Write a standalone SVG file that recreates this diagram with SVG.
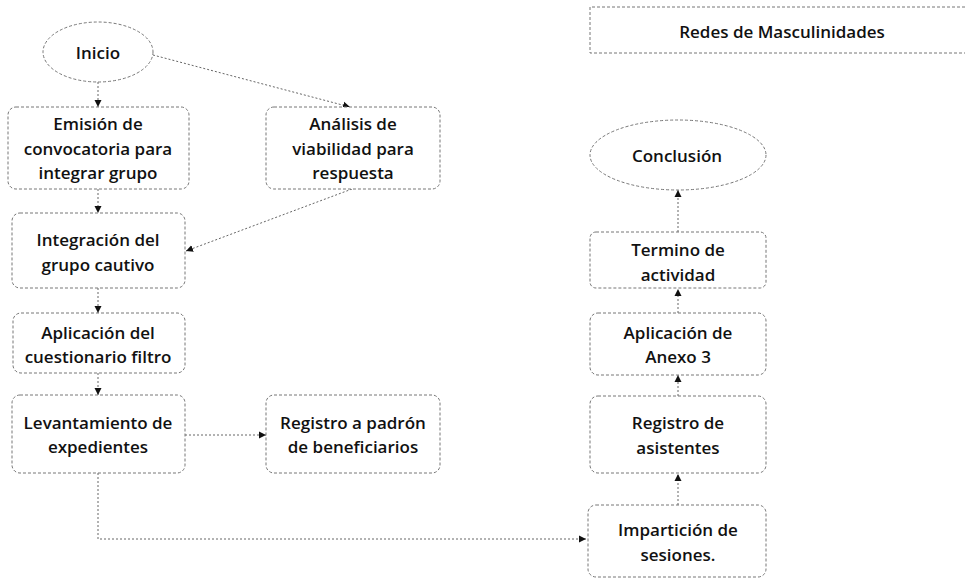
<svg xmlns="http://www.w3.org/2000/svg" width="965" height="579" viewBox="0 0 965 579">
<style>
.box{fill:#fff;stroke:#777;stroke-width:1;stroke-dasharray:3,2}
.conn{fill:none;stroke:#666;stroke-width:1;stroke-dasharray:2,2}
.t{font-family:"Open Sans","Liberation Sans",sans-serif;font-size:17px;font-weight:600;fill:#111;text-anchor:middle}
</style>
<defs>
<marker id="ah" markerWidth="9" markerHeight="9" refX="7" refY="4.5" orient="auto" markerUnits="userSpaceOnUse">
<path d="M0,1 L7,4.5 L0,8 Z" fill="#111"/>
</marker>
</defs>
<rect width="965" height="579" fill="#fff"/>
<g id="connectors">
<path class="conn" d="M98,82 L98,107" marker-end="url(#ah)"/>
<path class="conn" d="M153,55 L350,107" marker-end="url(#ah)"/>
<path class="conn" d="M98,189 L98,213" marker-end="url(#ah)"/>
<path class="conn" d="M352,189 L186,251" marker-end="url(#ah)"/>
<path class="conn" d="M98,288 L98,313" marker-end="url(#ah)"/>
<path class="conn" d="M98,373 L98,395" marker-end="url(#ah)"/>
<path class="conn" d="M185,435 L266,435" marker-end="url(#ah)"/>
<path class="conn" d="M98,473 L98,539 L586,539" marker-end="url(#ah)"/>
<path class="conn" d="M678,505 L678,474" marker-end="url(#ah)"/>
<path class="conn" d="M678,396 L678,375" marker-end="url(#ah)"/>
<path class="conn" d="M678,313 L678,289" marker-end="url(#ah)"/>
<path class="conn" d="M678,232 L678,190" marker-end="url(#ah)"/>
</g>
<g id="redes">
<path class="box" d="M965,7 L590,7 L590,53 L965,53"/>
<text class="t" x="782" y="38">Redes de Masculinidades</text>
</g>
<g id="inicio">
<ellipse class="box" cx="98" cy="52" rx="55" ry="30"/>
<text class="t" x="98" y="59">Inicio</text>
</g>
<g id="emision">
<rect class="box" x="8" y="107" width="181" height="82" rx="8"/>
<text class="t" x="98" y="130">Emisión de</text>
<text class="t" x="98" y="155">convocatoria para</text>
<text class="t" x="98" y="179">integrar grupo</text>
</g>
<g id="analisis">
<rect class="box" x="266" y="107" width="174" height="82" rx="8"/>
<text class="t" x="353" y="130">Análisis de</text>
<text class="t" x="353" y="155">viabilidad para</text>
<text class="t" x="353" y="179">respuesta</text>
</g>
<g id="integracion">
<rect class="box" x="12" y="213" width="173" height="75" rx="8"/>
<text class="t" x="98" y="246">Integración del</text>
<text class="t" x="98" y="271">grupo cautivo</text>
</g>
<g id="cuestionario">
<rect class="box" x="13" y="313" width="172" height="60" rx="8"/>
<text class="t" x="98" y="339">Aplicación del</text>
<text class="t" x="98" y="363">cuestionario filtro</text>
</g>
<g id="levantamiento">
<rect class="box" x="12" y="395" width="173" height="78" rx="8"/>
<text class="t" x="98" y="429">Levantamiento de</text>
<text class="t" x="98" y="453">expedientes</text>
</g>
<g id="registro_padron">
<rect class="box" x="266" y="395" width="174" height="78" rx="8"/>
<text class="t" x="353" y="429">Registro a padrón</text>
<text class="t" x="353" y="453">de beneficiarios</text>
</g>
<g id="conclusion">
<ellipse class="box" cx="678" cy="155" rx="88" ry="35"/>
<text class="t" x="677" y="162">Conclusión</text>
</g>
<g id="termino">
<rect class="box" x="590" y="232" width="176" height="56" rx="6"/>
<text class="t" x="678" y="256">Termino de</text>
<text class="t" x="678" y="281">actividad</text>
</g>
<g id="anexo3">
<rect class="box" x="590" y="313" width="176" height="62" rx="8"/>
<text class="t" x="678" y="339">Aplicación de</text>
<text class="t" x="678" y="363">Anexo 3</text>
</g>
<g id="registro_asistentes">
<rect class="box" x="590" y="396" width="176" height="77" rx="8"/>
<text class="t" x="678" y="429">Registro de</text>
<text class="t" x="678" y="454">asistentes</text>
</g>
<g id="imparticion">
<rect class="box" x="588" y="505" width="178" height="72" rx="8"/>
<text class="t" x="678" y="536">Impartición de</text>
<text class="t" x="678" y="561">sesiones.</text>
</g>
</svg>
